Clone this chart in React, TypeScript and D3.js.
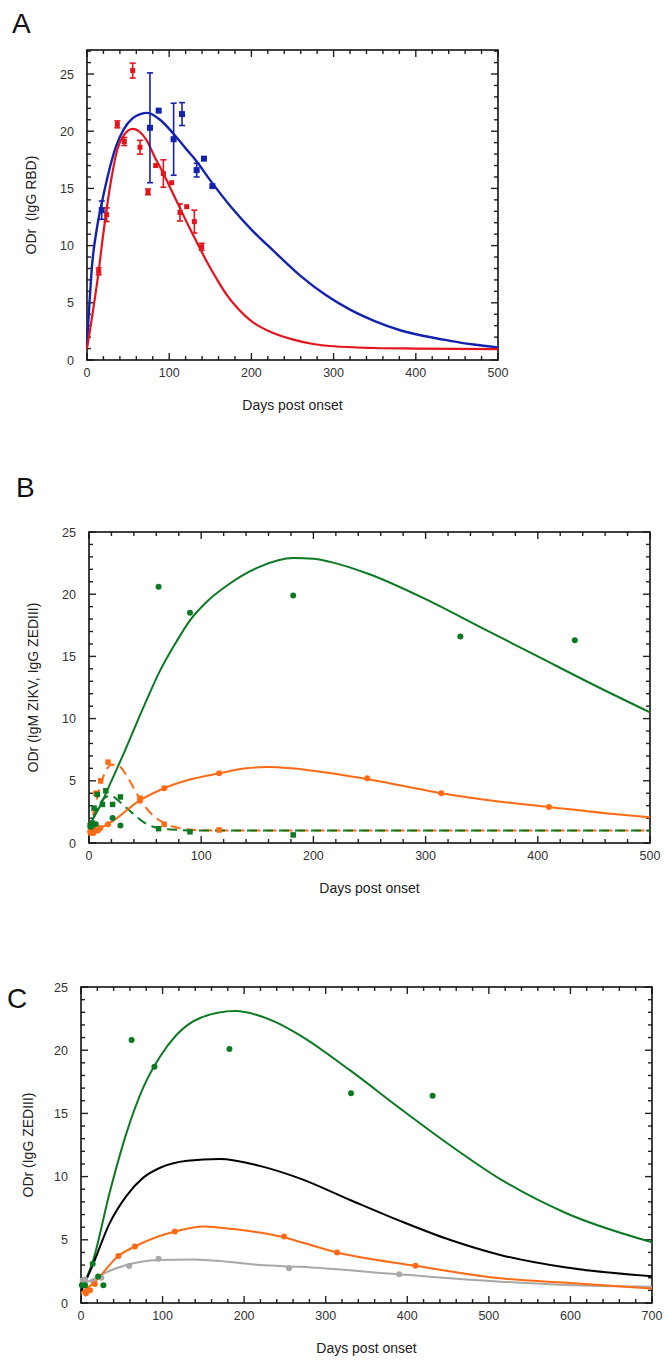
import * as d3 from "d3";

const W = 667;
const H = 1362;

// ---- Panel A : IgG RBD ----
// points: [day, ODr, error]
const aRedPts = [
  [14.2, 7.75, 0.3], [23.9, 12.7, 0.6], [36.9, 20.6, 0.3], [45.4, 19.1, 0.35],
  [55.6, 25.3, 0.65], [64.5, 18.6, 0.6], [74.2, 14.7, 0.25], [83.5, 17.0, 0.15],
  [92.9, 16.3, 1.2], [103, 15.5, 0.2], [113.1, 12.9, 0.75], [121.3, 13.4, 0.1],
  [130.6, 12.1, 1.0], [139.5, 9.9, 0.3],
];
const aBluePts = [
  [17.9, 13.1, 0.8], [76.6, 20.3, 4.8], [87.2, 21.8, 0.2], [105.4, 19.3, 3.15],
  [115.6, 21.5, 1.0], [133.4, 16.6, 0.6], [142.3, 17.6, 0.15], [152.5, 15.2, 0.2],
];
const aRedFit = [
  [0, 1.0], [5, 3.2], [10, 5.6], [14.2, 7.75], [19, 10.6], [23.9, 13.2], [30, 16.0],
  [36.9, 18.4], [45.4, 19.7], [55.6, 20.2], [63, 20.0], [72.6, 19.2], [82, 17.8],
  [92.9, 16.3], [103, 14.8], [113, 13.3], [123, 11.8], [133.6, 10.3], [145, 8.7],
  [157.7, 7.1], [170, 5.7], [185, 4.4], [200, 3.4], [225, 2.4], [250, 1.8],
  [275, 1.4], [300, 1.2], [350, 1.05], [400, 1.0], [500, 0.95],
];
const aBlueFit = [
  [0, 1.3], [3, 5.0], [5.7, 7.9], [12, 11.5], [17.9, 13.7], [25, 16.0], [35, 18.6],
  [45, 20.2], [55, 21.1], [65, 21.5], [73.4, 21.6], [88.8, 21.0], [105, 19.8],
  [120, 18.5], [133, 17.4], [150, 15.7], [175, 13.4], [200, 11.4], [226, 9.6],
  [259, 7.4], [290, 5.7], [320, 4.4], [350, 3.4], [381, 2.6], [410, 2.1],
  [440, 1.7], [470, 1.35], [500, 1.1],
];

// ---- Panel B : IgM ZIKV (squares, dashed) / IgG ZEDIII (circles, solid) ----
const bGreenCircles = [
  [2, 1.3], [6, 1.5], [21, 2.0], [28, 1.4], [62, 20.6], [90, 18.5],
  [182, 19.9], [331, 16.6], [433, 16.3],
];
const bGreenSquares = [
  [1, 1.4], [3, 1.6], [4.5, 2.8], [7.4, 3.9], [12, 3.1], [15, 4.2],
  [21, 3.1], [28, 3.7], [62, 1.15], [90, 0.9], [182, 0.65],
];
const bOrangeSquares = [
  [2, 0.8], [4, 1.1], [6.2, 4.0], [10.4, 5.0], [17, 6.5], [45.5, 3.6],
  [67, 1.5], [116, 1.05],
];
const bOrangeCircles = [
  [1, 0.9], [4, 0.8], [8, 1.0], [10, 1.2], [17, 1.5], [45.5, 3.4], [67, 4.4],
  [116, 5.6], [248, 5.2], [314, 4.0], [410, 2.9],
];
const bGreenFit = [
  [0, 1.4], [10, 3.0], [20, 5.0], [30, 7.0], [48, 10.8], [63, 13.8], [78, 16.2],
  [90, 17.9], [105, 19.4], [123, 20.7], [152, 22.2], [182, 22.9], [200, 22.85],
  [215, 22.6], [250, 21.6], [300, 19.6], [350, 17.3], [400, 15.0], [450, 12.7],
  [500, 10.5],
];
const bOrangeFit = [
  [0, 0.9], [10, 1.2], [20, 1.7], [45, 3.4], [67, 4.4], [90, 5.1], [116, 5.6],
  [140, 6.0], [158, 6.1], [180, 6.0], [200, 5.8], [250, 5.1], [314, 4.0],
  [360, 3.4], [410, 2.9], [460, 2.4], [500, 2.07],
];
const bOrangeDash = [
  [0, 1.0], [5, 2.8], [10, 4.6], [15, 5.8], [20, 6.3], [25, 6.3], [30, 5.9],
  [35, 5.2], [45, 3.6], [55, 2.4], [67, 1.6], [80, 1.2], [100, 1.02],
  [150, 1.0], [500, 1.0],
];
const bGreenDash = [
  [0, 1.2], [5, 2.3], [10, 3.2], [15, 3.7], [20, 3.8], [25, 3.5], [30, 3.1],
  [40, 2.3], [50, 1.6], [62, 1.2], [80, 1.05], [100, 1.0], [500, 1.0],
];

// ---- Panel C : IgG ZEDIII ----
const cGreenPts = [
  [1, 1.4], [5, 1.4], [14.3, 3.1], [21, 2.1], [27.4, 1.4], [62, 20.8],
  [90, 18.7], [182, 20.1], [331, 16.6], [431, 16.4],
];
const cOrangePts = [
  [6, 0.75], [8, 0.96], [11, 1.0], [17, 1.5], [45.8, 3.72], [66, 4.47],
  [115, 5.66], [249, 5.27], [314, 4.0], [410, 2.95],
];
const cGrayPts = [
  [2, 1.8], [5, 1.86], [15, 1.73], [25, 2.0], [59, 2.93], [95, 3.5],
  [255, 2.74], [390, 2.27],
];
const cGreenFit = [
  [0, 1.0], [15, 3.4], [35, 8.7], [56, 13.5], [76, 17.0], [97, 19.5],
  [117, 21.2], [146, 22.55], [189, 23.1], [236, 22.3], [268, 21.2],
  [330, 18.4], [391, 15.4], [452, 12.5], [514, 9.8], [595, 7.1], [700, 4.8],
];
const cBlackFit = [
  [0, 0.9], [15, 3.1], [35, 6.3], [56, 8.5], [76, 9.9], [97, 10.7],
  [130, 11.25], [170, 11.4], [219, 10.85], [268, 9.86], [330, 8.15],
  [391, 6.5], [452, 5.0], [514, 3.8], [595, 2.8], [700, 2.12],
];
const cOrangeFit = [
  [0, 0.8], [17, 1.68], [45.8, 3.72], [66, 4.47], [115, 5.66], [150, 6.06],
  [187, 5.85], [249, 5.2], [268, 4.85], [314, 4.0], [410, 2.95], [514, 1.95],
  [595, 1.6], [700, 1.15],
];
const cGrayFit = [
  [0, 1.55], [15, 1.86], [27, 2.3], [56, 3.0], [95, 3.4], [138, 3.45],
  [179, 3.27], [219, 3.0], [268, 2.87], [390, 2.27], [514, 1.69],
  [595, 1.42], [700, 1.29],
];

const RED = "#e3141c";
const BLUE = "#1422b0";
const GREEN = "#0b7a22";
const ORANGE = "#ff6a14";
const GRAY = "#a8a8a8";

type Frame = {
  x0: number; x1: number; y0: number; y1: number;
  xMax: number; yMax: number;
};

function Axes({ f, xLab, yLab, yLabX }: { f: Frame; xLab: string; yLab: string; yLabX: number }) {
  const x = d3.scaleLinear().domain([0, f.xMax]).range([f.x0, f.x1]);
  const y = d3.scaleLinear().domain([0, f.yMax]).range([f.y1, f.y0]);
  const xt = d3.range(0, f.xMax + 1, 20);
  const yt = d3.range(0, Math.floor(f.yMax) + 1, 1);
  const tk = "#222";
  return (
    <g>
      {xt.map((v) => {
        const L = v % 100 === 0 ? 7 : 4;
        return (
          <g key={"x" + v}>
            <line x1={x(v)} x2={x(v)} y1={f.y1} y2={f.y1 - L} stroke={tk} strokeWidth={1.4} />
            <line x1={x(v)} x2={x(v)} y1={f.y0} y2={f.y0 + L} stroke={tk} strokeWidth={1.4} />
          </g>
        );
      })}
      {yt.map((v) => {
        const L = v % 5 === 0 ? 7 : 4;
        return (
          <g key={"y" + v}>
            <line x1={f.x0} x2={f.x0 + L} y1={y(v)} y2={y(v)} stroke={tk} strokeWidth={1.4} />
            <line x1={f.x1} x2={f.x1 - L} y1={y(v)} y2={y(v)} stroke={tk} strokeWidth={1.4} />
          </g>
        );
      })}
      <rect x={f.x0} y={f.y0} width={f.x1 - f.x0} height={f.y1 - f.y0} fill="none" stroke="#111" strokeWidth={1.6} />
      {d3.range(0, f.xMax + 1, 100).map((v) => (
        <text key={"xl" + v} x={x(v)} y={f.y1 + 17} textAnchor="middle" fontSize={12.5} fill="#333">{v}</text>
      ))}
      {d3.range(0, 26, 5).map((v) => (
        <text key={"yl" + v} x={f.x0 - 13} y={y(v) + 4.5} textAnchor="end" fontSize={12.5} fill="#333">{v}</text>
      ))}
      <text x={(f.x0 + f.x1) / 2} y={f.y1 + 50} textAnchor="middle" fontSize={14} fill="#222">{xLab}</text>
      <text transform={`translate(${yLabX},${(f.y0 + f.y1) / 2}) rotate(-90)`} textAnchor="middle" fontSize={14} fill="#222" style={{ whiteSpace: "pre" }}>{yLab}</text>
    </g>
  );
}

function mkScales(f: Frame) {
  const x = d3.scaleLinear().domain([0, f.xMax]).range([f.x0, f.x1]);
  const y = d3.scaleLinear().domain([0, f.yMax]).range([f.y1, f.y0]);
  const line = d3.line<number[]>().x((d) => x(d[0])).y((d) => y(d[1])).curve(d3.curveMonotoneX);
  return { x, y, line };
}

function ErrPts({ pts, x, y, color, size }: any) {
  return (
    <g>
      {pts.map((p: number[], i: number) => (
        <g key={i}>
          {p[2] > 0.2 && (
            <g stroke={color} strokeWidth={1.6}>
              <line x1={x(p[0])} x2={x(p[0])} y1={y(p[1] - p[2])} y2={y(p[1] + p[2])} />
              <line x1={x(p[0]) - 3} x2={x(p[0]) + 3} y1={y(p[1] - p[2])} y2={y(p[1] - p[2])} />
              <line x1={x(p[0]) - 3} x2={x(p[0]) + 3} y1={y(p[1] + p[2])} y2={y(p[1] + p[2])} />
            </g>
          )}
          <rect x={x(p[0]) - size / 2} y={y(p[1]) - size / 2} width={size} height={size} fill={color} />
        </g>
      ))}
    </g>
  );
}

export default function App() {
  const fA: Frame = { x0: 87, x1: 498, y0: 50, y1: 360, xMax: 500, yMax: 27.1 };
  const fB: Frame = { x0: 89, x1: 650, y0: 532, y1: 843, xMax: 500, yMax: 25 };
  const fC: Frame = { x0: 81, x1: 652, y0: 987, y1: 1303, xMax: 700, yMax: 25 };
  const A = mkScales(fA);
  const B = mkScales(fB);
  const C = mkScales(fC);

  const circles = (pts: number[][], s: any, color: string, r = 3) =>
    pts.map((p, i) => <circle key={i} cx={s.x(p[0])} cy={s.y(p[1])} r={r} fill={color} />);
  const squares = (pts: number[][], s: any, color: string, w = 5.5) =>
    pts.map((p, i) => <rect key={i} x={s.x(p[0]) - w / 2} y={s.y(p[1]) - w / 2} width={w} height={w} fill={color} />);

  return (
    <svg width={W} height={H} style={{ position: "absolute", left: 0, top: 0, background: "#fff" }}
      fontFamily="Liberation Sans, Arial, sans-serif">
      {/* Panel A */}
      <text x={12} y={33} fontSize={28} fill="#111">A</text>
      <Axes f={fA} xLab="Days post onset" yLab="ODr  (IgG RBD)" yLabX={36} />
      <path d={A.line(aBlueFit) || ""} fill="none" stroke={BLUE} strokeWidth={2.4} />
      <path d={A.line(aRedFit) || ""} fill="none" stroke={RED} strokeWidth={2.2} />
      <ErrPts pts={aRedPts} x={A.x} y={A.y} color={RED} size={5} />
      <ErrPts pts={aBluePts} x={A.x} y={A.y} color={BLUE} size={6} />

      {/* Panel B */}
      <text x={16} y={497} fontSize={28} fill="#111">B</text>
      <Axes f={fB} xLab="Days post onset" yLab="ODr (IgM ZIKV, IgG ZEDIII)" yLabX={38} />
      <path d={B.line(bOrangeDash) || ""} fill="none" stroke={ORANGE} strokeWidth={2} strokeDasharray="10,6" />
      <path d={B.line(bGreenDash) || ""} fill="none" stroke={GREEN} strokeWidth={2} strokeDasharray="10,6" strokeDashoffset={4} />
      <path d={B.line(bGreenFit) || ""} fill="none" stroke={GREEN} strokeWidth={2} />
      <path d={B.line(bOrangeFit) || ""} fill="none" stroke={ORANGE} strokeWidth={2} />
      {squares(bOrangeSquares, B, ORANGE)}
      {squares(bGreenSquares, B, GREEN)}
      {circles(bOrangeCircles, B, ORANGE)}
      {circles(bGreenCircles, B, GREEN)}

      {/* Panel C */}
      <text x={7} y={1008} fontSize={28} fill="#111">C</text>
      <Axes f={fC} xLab="Days post onset" yLab="ODr (IgG ZEDIII)" yLabX={33} />
      <path d={C.line(cGreenFit) || ""} fill="none" stroke={GREEN} strokeWidth={2} />
      <path d={C.line(cBlackFit) || ""} fill="none" stroke="#000" strokeWidth={2} />
      <path d={C.line(cGrayFit) || ""} fill="none" stroke={GRAY} strokeWidth={2} />
      <path d={C.line(cOrangeFit) || ""} fill="none" stroke={ORANGE} strokeWidth={2} />
      {circles(cGrayPts, C, GRAY)}
      {circles(cOrangePts, C, ORANGE)}
      {circles(cGreenPts, C, GREEN)}
    </svg>
  );
}
